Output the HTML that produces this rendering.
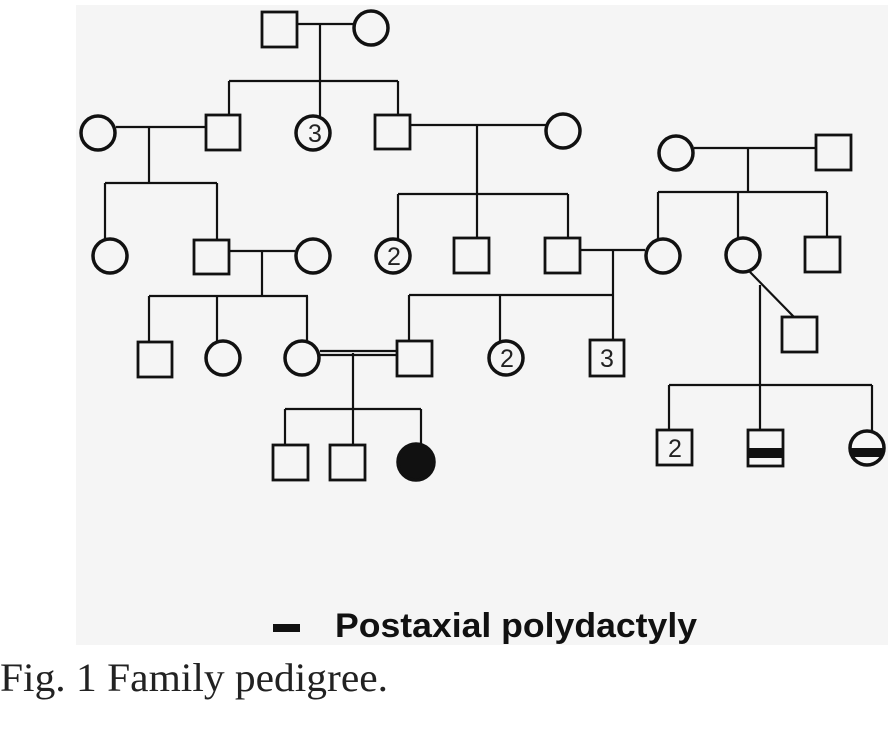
<!DOCTYPE html>
<html><head><meta charset="utf-8"><style>
body{margin:0;background:#fff;width:888px;height:744px;overflow:hidden}
</style></head><body>
<svg width="888" height="744" viewBox="0 0 888 744" xmlns="http://www.w3.org/2000/svg">
<rect x="76" y="5" width="812" height="640" fill="#f5f5f5"/>
<g stroke="#111" stroke-width="2.2" fill="none">
<line x1="297" y1="24" x2="353" y2="24"/>
<line x1="320" y1="24" x2="320" y2="81"/>
<line x1="229" y1="81" x2="398" y2="81"/>
<line x1="229" y1="81" x2="229" y2="115"/>
<line x1="320" y1="81" x2="320" y2="116"/>
<line x1="398" y1="81" x2="398" y2="115"/>
<line x1="116" y1="127" x2="206" y2="127"/>
<line x1="149" y1="127" x2="149" y2="183"/>
<line x1="105" y1="183" x2="217" y2="183"/>
<line x1="105" y1="183" x2="105" y2="239"/>
<line x1="217" y1="183" x2="217" y2="240"/>
<line x1="410" y1="125" x2="546" y2="125"/>
<line x1="477" y1="125" x2="477" y2="194"/>
<line x1="398" y1="194" x2="568" y2="194"/>
<line x1="398" y1="194" x2="398" y2="239"/>
<line x1="477" y1="194" x2="477" y2="238"/>
<line x1="568" y1="194" x2="568" y2="238"/>
<line x1="694" y1="148" x2="816" y2="148"/>
<line x1="748" y1="148" x2="748" y2="192"/>
<line x1="658" y1="192" x2="827" y2="192"/>
<line x1="658" y1="192" x2="658" y2="239"/>
<line x1="738" y1="192" x2="738" y2="238"/>
<line x1="827" y1="192" x2="827" y2="237"/>
<line x1="229" y1="251" x2="295" y2="251"/>
<line x1="262" y1="251" x2="262" y2="296"/>
<line x1="149" y1="296" x2="308" y2="296"/>
<line x1="149" y1="296" x2="149" y2="342"/>
<line x1="217" y1="296" x2="217" y2="341"/>
<line x1="307" y1="296" x2="307" y2="341"/>
<line x1="580" y1="250" x2="645" y2="250"/>
<line x1="613" y1="250" x2="613" y2="295"/>
<line x1="409" y1="295" x2="613" y2="295"/>
<line x1="409" y1="295" x2="409" y2="341"/>
<line x1="500" y1="295" x2="500" y2="341"/>
<line x1="613" y1="295" x2="613" y2="340"/>
<line x1="750" y1="272" x2="794" y2="317"/>
<line x1="760" y1="285" x2="760" y2="385"/>
<line x1="669" y1="385" x2="872" y2="385"/>
<line x1="669" y1="385" x2="669" y2="430"/>
<line x1="760" y1="385" x2="760" y2="430"/>
<line x1="872" y1="385" x2="872" y2="431"/>
<line x1="320" y1="351" x2="397" y2="351"/>
<line x1="320" y1="355" x2="397" y2="355"/>
<line x1="353" y1="353" x2="353" y2="409"/>
<line x1="285" y1="409" x2="421" y2="409"/>
<line x1="285" y1="409" x2="285" y2="445"/>
<line x1="353" y1="409" x2="353" y2="445"/>
<line x1="421" y1="409" x2="421" y2="445"/>
</g>
<g stroke="#111" stroke-width="2.8" fill="#f5f5f5">
<rect x="262" y="12" width="35" height="35"/>
<rect x="206" y="115" width="34" height="35"/>
<rect x="375" y="115" width="35" height="34"/>
<rect x="816" y="135" width="35" height="35"/>
<rect x="194" y="240" width="35" height="34"/>
<rect x="454" y="238" width="35" height="35"/>
<rect x="545" y="238" width="35" height="35"/>
<rect x="805" y="237" width="35" height="35"/>
<rect x="782" y="317" width="35" height="35"/>
<rect x="138" y="342" width="34" height="35"/>
<rect x="397" y="341" width="35" height="35"/>
<rect x="590" y="340" width="34" height="36"/>
<rect x="273" y="445" width="35" height="35"/>
<rect x="330" y="445" width="35" height="35"/>
<rect x="657" y="430" width="35" height="35"/>
<rect x="748" y="430" width="35" height="36"/>
</g>
<rect x="749" y="448" width="33" height="10" fill="#111"/>
<g stroke="#111" stroke-width="3.5" fill="#f5f5f5">
<circle cx="371" cy="28" r="17"/>
<circle cx="98" cy="133" r="17"/>
<circle cx="313" cy="133" r="17"/>
<circle cx="563" cy="131" r="17"/>
<circle cx="676" cy="153" r="17"/>
<circle cx="110" cy="256" r="17"/>
<circle cx="313" cy="256" r="17"/>
<circle cx="393" cy="256" r="17"/>
<circle cx="663" cy="256" r="17"/>
<circle cx="743" cy="255" r="17"/>
<circle cx="223" cy="358" r="17"/>
<circle cx="302" cy="358" r="17"/>
<circle cx="506" cy="358" r="17"/>
<circle cx="416" cy="462" r="18" fill="#111"/>
<circle cx="867" cy="448" r="17"/>
</g>
<clipPath id="c"><circle cx="867" cy="448" r="17"/></clipPath>
<rect x="849" y="448" width="36" height="9" fill="#111" clip-path="url(#c)"/>
<g font-family="Liberation Sans, sans-serif" font-size="25" fill="#222" text-anchor="middle">
<text x="315" y="142">3</text>
<text x="394" y="265">2</text>
<text x="507" y="367">2</text>
<text x="607" y="367">3</text>
<text x="675" y="457">2</text>
</g>
<rect x="273" y="624" width="27" height="8" fill="#111"/>
<text x="335" y="637" font-family="Liberation Sans, sans-serif" font-weight="bold" font-size="34" fill="#111" textLength="362" lengthAdjust="spacingAndGlyphs">Postaxial polydactyly</text>
<text x="0" y="691" font-family="Liberation Serif, serif" font-size="40" fill="#222" textLength="388" lengthAdjust="spacingAndGlyphs">Fig. 1  Family pedigree.</text>
</svg>
</body></html>
